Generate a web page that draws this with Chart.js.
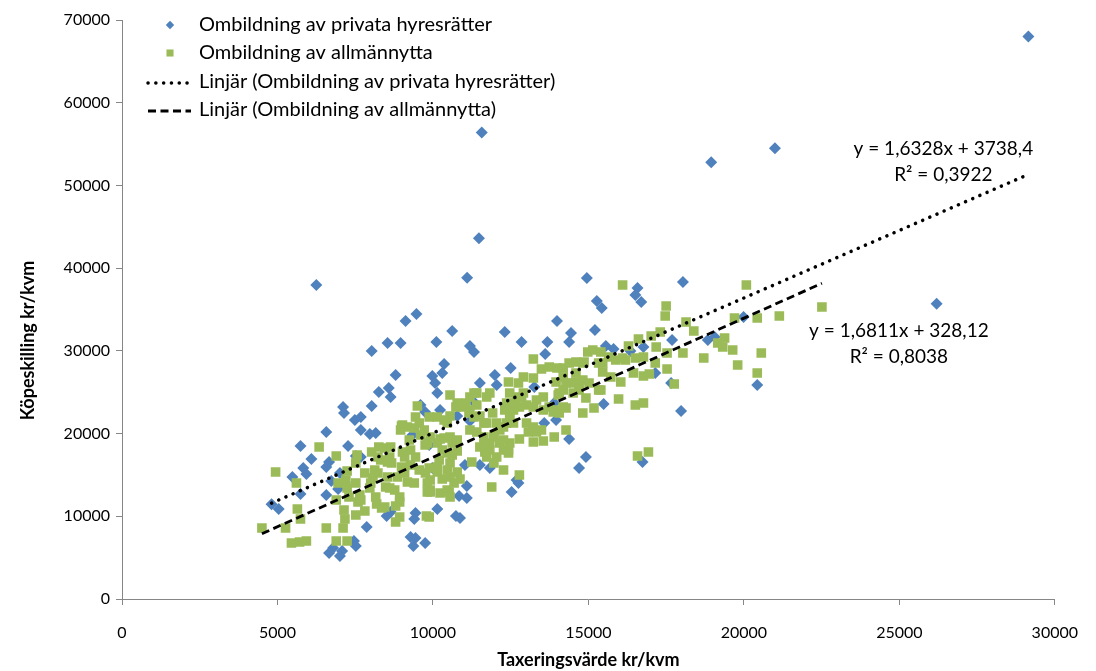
<!DOCTYPE html>
<html>
<head>
<meta charset="utf-8">
<script src="https://cdn.jsdelivr.net/npm/chart.js@4.4.1/dist/chart.umd.min.js"></script>
<style>
  html, body { margin: 0; padding: 0; background: #fff; }
</style>
</head>
<body>
<canvas id="chart" width="1096" height="671"></canvas>
<script>
// [taxeringsvärde, köpeskilling] per ombildning, kr/kvm
const privata = [
  [29150, 68000], [11570, 56400], [18950, 52800], [21000, 54500], [11480, 43600], [6250, 37960], [26200, 35700],
  [11100, 38850], [14950, 38800], [15270, 36030], [15430, 35180], [13990, 33610], [10620, 32400], [12310, 32280],
  [15210, 32520], [14440, 32160], [14380, 31070], [10110, 31070], [11190, 30590], [11320, 29860], [12850, 31070],
  [13680, 31070], [13610, 29620], [10360, 28410], [10300, 27320], [9980, 26960], [12500, 27930], [11990, 27080],
  [11510, 26110], [10070, 26110],
  [18040, 38330], [16580, 37600], [16510, 36750], [16700, 35910], [19990, 34090], [17690, 31310], [18840, 31310],
  [19060, 31680], [15560, 30590], [15810, 30230], [16350, 29980], [16770, 30470], [17150, 27320], [17660, 26110],
  [20430, 25870], [15490, 23580], [17980, 22730], [16740, 16560], [13260, 25630],
  [10140, 24900], [12050, 25870], [11350, 23700], [10230, 22850], [10780, 22120], [11190, 21520], [13900, 23700],
  [13960, 21640], [13580, 21280], [14380, 19340], [14920, 17170], [14700, 15840], [11090, 13660], [11510, 16200],
  [11830, 15840], [11030, 16200], [12530, 12940], [12750, 14020], [12690, 14390], [10840, 12450], [11090, 12210],
  [10140, 10880], [10740, 10040], [10870, 9790], [9880, 18620], [9980, 15840],
  [9120, 33610], [9470, 34460], [8540, 30950], [8960, 30950], [8030, 29980], [8800, 27080], [8260, 25030],
  [8580, 25510], [8640, 24420], [7110, 23210], [7140, 22490], [8030, 23330], [7680, 22000], [7490, 21640],
  [9600, 23450], [9750, 22610],
  [6570, 20190], [7680, 20430], [7970, 19950], [8160, 20070], [5740, 18500], [7270, 18500], [6090, 16930],
  [6660, 16560], [6570, 15960], [5830, 15840], [5930, 15110], [5480, 14750], [6730, 14270], [7010, 15230],
  [6950, 13300], [5740, 12690], [6570, 12570], [7170, 14150], [4810, 11450], [5040, 10880], [7520, 17290],
  [7680, 17170], [7870, 8700], [9440, 10400], [9400, 9670], [9280, 7500], [9440, 7370], [9370, 6410],
  [9750, 6770], [7460, 7010], [7520, 6410], [6790, 6170], [6660, 5560], [7010, 5200], [7080, 5800],
  [9340, 19830], [8510, 10040], [8640, 10520]
];

const allmannytta = [
  [6340, 18380], [4940, 15350], [5610, 14020], [5640, 10880], [5740, 9670], [4500, 8580], [5260, 8580],
  [5450, 6770], [5710, 6890], [5930, 7010], [6570, 8580], [6890, 17290], [7240, 15480], [7110, 8580],
  [6890, 7010], [7240, 7010], [7240, 13420], [6890, 11970], [7140, 10760], [7170, 9670], [7520, 14020],
  [7650, 12570], [7520, 10160], [7590, 11730], [7810, 10640], [7970, 13420], [8070, 14630], [8260, 18380],
  [8450, 18260], [8320, 16810], [8540, 16560], [8670, 16440], [8230, 15230], [8480, 13540], [8610, 13420],
  [8190, 11490], [8350, 11000], [8800, 11240], [8930, 11730], [8800, 9310], [8990, 15960], [9090, 15230],
  [9020, 17770], [8990, 20920], [9400, 20670], [9560, 21280], [9600, 19830], [9820, 18860], [9280, 16200],
  [9560, 15600], [9760, 15230], [9440, 17170], [9180, 14150], [9820, 12940], [9790, 10040], [6950, 14020],
  [7520, 16440],
  [7200, 14390], [7300, 12330], [7560, 17410], [7810, 15230], [7680, 11970], [8030, 17770], [8230, 17170],
  [8640, 18380], [8130, 15600], [8000, 14020], [8160, 12330], [8450, 11120], [8610, 17170], [8540, 14750],
  [8860, 14750], [9020, 15600], [8960, 20430], [9180, 20800], [9240, 19220], [9280, 18010], [9090, 17170],
  [8770, 13180], [8930, 12330], [8930, 9910], [9400, 14020], [9820, 14020], [9910, 13180],
  [9500, 23330], [9440, 22000], [9880, 22000], [9020, 21040],
  [10550, 24660], [11060, 23700], [11410, 24900], [10740, 23210], [10140, 22000], [10360, 21640], [10550, 22120],
  [11160, 22490], [11510, 22120], [11920, 22490], [12310, 22850], [12470, 22490], [12620, 23700], [12850, 24300],
  [13010, 23450], [13330, 24060], [13550, 24420], [14030, 24660], [14190, 25270], [14510, 26110], [14700, 25630],
  [15020, 26110], [14920, 24300], [15180, 23090], [14820, 22490], [14280, 23090], [14060, 22490], [13870, 22610],
  [15330, 25270], [12370, 21280], [12590, 21280], [13010, 21280], [13230, 20800], [13070, 20190], [13330, 20190],
  [13490, 20430], [12780, 19340], [13230, 18980], [13550, 19100], [13900, 19590], [14280, 20430], [12430, 18010],
  [12150, 18860], [11960, 19830], [11730, 21280], [11410, 20190], [11190, 20430], [11640, 18620], [11670, 17770],
  [11730, 17170], [11250, 16560], [10620, 18860], [10230, 19340], [10780, 17890], [10620, 17410], [10300, 18010],
  [10200, 16810], [10140, 15350], [10460, 15600], [10780, 15350], [10550, 14750], [10870, 14510], [10300, 14510],
  [9910, 14390], [9880, 15840], [10230, 12820], [10520, 12940], [9910, 12940], [11890, 13540], [12780, 14990],
  [9880, 9910],
  [10460, 21280], [9720, 20430], [9910, 19590], [9750, 18620], [10140, 18860], [10360, 19470], [10550, 19590],
  [10780, 19220], [10460, 17650], [10550, 16440], [10140, 15960], [10680, 14020], [10460, 13180], [10550, 12330],
  [11320, 24900], [11410, 23450], [11730, 24420], [11830, 24900], [11190, 22850], [11320, 22000], [11640, 21280],
  [11640, 19590], [11830, 18860], [11510, 18380], [11960, 19590], [12150, 20430], [12270, 19220], [11830, 18010],
  [12050, 17170], [12270, 18010], [11960, 16440], [12270, 15600], [12470, 18860], [12430, 17650], [12470, 24900],
  [12370, 23700], [12470, 22000], [11190, 24420], [10780, 23700], [11000, 23210],
  [14190, 27930], [14600, 28650], [14820, 28530], [13960, 26240], [14280, 26110], [14600, 26240], [14820, 26470],
  [14060, 24900], [14510, 24900], [14700, 25270], [12690, 24420], [12910, 24900], [12370, 23210], [12590, 22850],
  [12780, 23210], [13230, 23210], [13550, 22850], [13740, 23210], [13960, 22850], [14190, 23210], [12050, 21280],
  [12270, 20800],
  [13230, 29020], [12910, 26840], [13230, 26720], [13490, 27810], [13740, 28050], [13990, 27930], [14380, 28530],
  [14860, 28650], [15140, 30100], [14980, 29860], [15330, 28530], [12430, 26240], [12750, 26110], [14190, 26840],
  [14600, 27320], [15460, 27440],
  [16100, 37960], [20080, 37960], [17500, 35420], [17470, 34210], [18140, 33490], [18390, 32400], [19700, 33970],
  [20430, 33970], [21140, 34210], [19380, 31550], [19160, 30950], [19320, 30470], [19640, 30100], [20560, 29740],
  [19800, 28290], [20430, 27320], [18710, 29140], [17760, 25990], [18040, 29740], [17530, 27810], [17180, 30470],
  [17020, 31800], [16610, 31430], [16290, 30590], [15970, 24180], [16510, 23450], [16770, 23700], [16930, 17770],
  [16580, 17290], [17310, 32280], [16770, 29260], [17150, 28530], [17530, 29740], [16960, 27200], [16770, 26960],
  [16450, 27320], [16040, 26240], [15720, 26840], [15400, 25270], [15880, 28900], [16190, 28900], [16510, 29140],
  [15460, 28530], [15400, 29860], [15650, 29260], [16100, 29140], [22510, 35300]
];

// linjära trendlinjer: y = k*x + m
const privataFit = { k: 1.6328, m: 3738.4, r2: 0.3922 };
const allmannyttaFit = { k: 1.6811, m: 328.12, r2: 0.8038 };

const xTicks = { min: 0, max: 30000, step: 5000 };
const yTicks = { min: 0, max: 70000, step: 10000 };

const BLUE = '#4F81BD';
const GREEN = '#9BBB59';
const AXIS = '#868686';
const FONT = 'Lato';

const toPoints = rows => rows.map(([x, y]) => ({ x, y }));

const trendLine = (rows, fit) => {
  const xs = rows.map(r => r[0]);
  const lo = Math.min(...xs);
  const hi = Math.max(...xs);
  return [lo, hi].map(x => ({ x, y: fit.k * x + fit.m }));
};

const sv = n => String(n).replace('.', ',');
const fitText = fit => [
  'y = ' + fit.k.toFixed(4).replace('.', ',') + 'x + ' + sv(fit.m),
  'R² = ' + fit.r2.toFixed(4).replace('.', ',')
];

const legendPlugin = {
  id: 'insideLegend',
  afterDraw(chart) {
    const ctx = chart.ctx;
    const rows = [25, 53, 82, 110];
    ctx.save();
    ctx.font = '20px ' + FONT;
    ctx.textBaseline = 'middle';
    chart.data.datasets.forEach((ds, i) => {
      const y = rows[i];
      if (ds.type === 'line') {
        ctx.save();
        ctx.strokeStyle = ds.borderColor;
        ctx.lineWidth = ds.borderWidth;
        ctx.lineCap = ds.borderCapStyle;
        ctx.setLineDash(ds.borderDash);
        ctx.beginPath();
        ctx.moveTo(148, y + 1);
        ctx.lineTo(191, y + 1);
        ctx.stroke();
        ctx.restore();
      } else {
        ctx.fillStyle = ds.backgroundColor;
        Chart.helpers.drawPoint(ctx, {
          pointStyle: ds.pointStyle,
          radius: ds.pointStyle === 'rect' ? 5 : 4.2,
          borderWidth: 0
        }, 170, y);
      }
      ctx.fillStyle = '#000';
      ctx.fillText(ds.label, 199, y);
    });
    ctx.restore();
  }
};

const labelsPlugin = {
  id: 'fitLabels',
  afterDraw(chart) {
    const { ctx, scales: { x, y } } = chart;
    const ends = [
      { fit: privataFit, rows: privata, dx: -85, dy: -26 },
      { fit: allmannyttaFit, rows: allmannytta, dx: 77, dy: 48 }
    ];
    ctx.save();
    ctx.font = '19px ' + FONT;
    ctx.fillStyle = '#000';
    ctx.textAlign = 'center';
    ctx.textBaseline = 'middle';
    ends.forEach(e => {
      const end = trendLine(e.rows, e.fit)[1];
      const px = x.getPixelForValue(end.x) + e.dx;
      const py = y.getPixelForValue(end.y) + e.dy;
      fitText(e.fit).forEach((t, i) => ctx.fillText(t, px, py + i * 26));
    });

    // y-axelns titel
    ctx.font = 'bold 18px ' + FONT;
    ctx.translate(28, (chart.chartArea.top + chart.chartArea.bottom) / 2 + 31);
    ctx.rotate(-Math.PI / 2);
    ctx.fillText('Köpeskilling kr/kvm', 0, 0);
    ctx.restore();
  }
};

const tickFont = { family: FONT, size: 16 };

new Chart(document.getElementById('chart'), {
  type: 'scatter',
  data: {
    datasets: [
      {
        label: 'Ombildning av privata hyresrätter',
        data: toPoints(privata),
        pointStyle: 'rectRot',
        pointRadius: 6,
        pointBorderWidth: 0,
        backgroundColor: BLUE,
        borderColor: BLUE,
        order: 3
      },
      {
        label: 'Ombildning av allmännytta',
        data: toPoints(allmannytta),
        pointStyle: 'rect',
        pointRadius: 6.8,
        pointBorderWidth: 0,
        backgroundColor: GREEN,
        borderColor: GREEN,
        order: 2
      },
      {
        type: 'line',
        label: 'Linjär (Ombildning av privata hyresrätter)',
        data: trendLine(privata, privataFit),
        borderColor: '#000',
        borderWidth: 3.5,
        borderCapStyle: 'round',
        borderDash: [0.1, 7.7],
        pointRadius: 0,
        order: 1
      },
      {
        type: 'line',
        label: 'Linjär (Ombildning av allmännytta)',
        data: trendLine(allmannytta, allmannyttaFit),
        borderColor: '#000',
        borderWidth: 2.8,
        borderCapStyle: 'butt',
        borderDash: [8, 4.5],
        pointRadius: 0,
        order: 1
      }
    ]
  },
  options: {
    responsive: false,
    animation: false,
    layout: { padding: { top: 20, right: 33, bottom: 0, left: 0 } },
    plugins: {
      legend: { display: false },
      tooltip: { enabled: false }
    },
    scales: {
      x: {
        type: 'linear',
        min: xTicks.min,
        max: xTicks.max,
        afterFit: s => { s.height = 72; },
        border: { color: AXIS },
        grid: { drawOnChartArea: false, tickLength: 6, color: AXIS },
        ticks: {
          stepSize: xTicks.step,
          padding: 18,
          color: '#000',
          font: tickFont,
          maxRotation: 0,
          callback: v => String(v)
        },
        title: {
          display: true,
          text: 'Taxeringsvärde kr/kvm',
          color: '#000',
          font: { family: FONT, size: 18, weight: 'bold' },
          padding: { top: 0, bottom: 0 }
        }
      },
      y: {
        type: 'linear',
        min: yTicks.min,
        max: yTicks.max,
        afterFit: s => { s.width = 122; },
        border: { color: AXIS },
        grid: { drawOnChartArea: false, tickLength: 6, color: AXIS },
        ticks: {
          stepSize: yTicks.step,
          padding: 6,
          color: '#000',
          font: tickFont,
          callback: v => String(v)
        }
      }
    }
  },
  plugins: [legendPlugin, labelsPlugin]
});
</script>
</body>
</html>
